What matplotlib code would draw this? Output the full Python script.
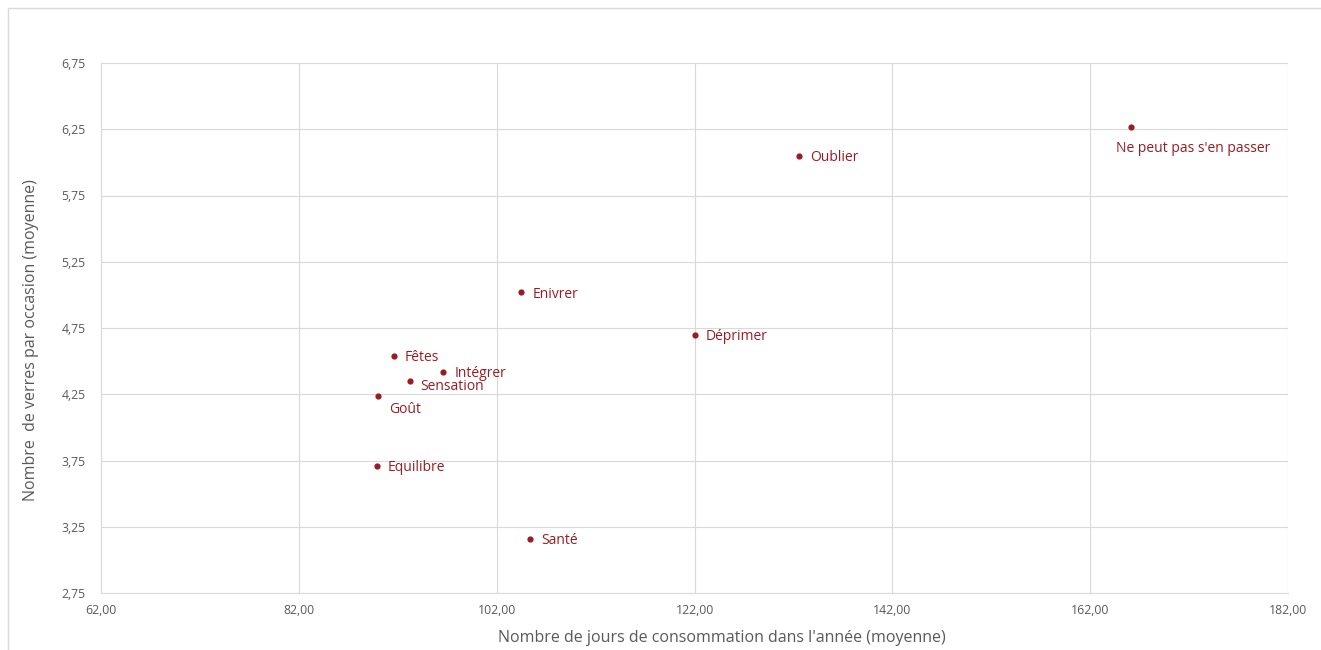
import matplotlib.pyplot as plt
from matplotlib.lines import Line2D
from matplotlib.ticker import FuncFormatter

# mean days of consumption per year vs mean glasses per occasion, by motive
motives = ["Ne peut pas s'en passer", "Oublier", "Enivrer", "Déprimer", "Fêtes",
           "Intégrer", "Sensation", "Goût", "Equilibre", "Santé"]
days = [166.1, 132.6, 104.5, 122.0, 91.6, 96.6, 93.2, 90.0, 89.9, 105.4]
glasses = [6.27, 6.05, 5.02, 4.70, 4.54, 4.42, 4.35, 4.24, 3.71, 3.16]

# label offsets in pixels (dx, dy, ha, va)
label_pos = {
    "Ne peut pas s'en passer": (-15, -14, "left", "top"),
    "Goût": (11, -6, "left", "top"),
    "Sensation": (11, -6, "left", "center"),
}

RED = "#9b1b22"
GREY = "#595959"

plt.rcParams["font.family"] = ["Open Sans", "DejaVu Sans"]

fig = plt.figure(figsize=(13.21, 6.5), dpi=100)
ax = fig.add_axes([101 / 1321, 57 / 650, 1187 / 1321, 530 / 650])

ax.scatter(days, glasses, s=12, color=RED, zorder=3)
for name, x, y in zip(motives, days, glasses):
    dx, dy, ha, va = label_pos.get(name, (11, -2, "left", "center"))
    ax.annotate(name, (x, y), xytext=(dx, dy), textcoords="offset pixels",
                ha=ha, va=va, color=RED, fontsize=10)

ax.set_xlim(62, 182)
ax.set_ylim(2.75, 6.75)
ax.set_xticks([62, 82, 102, 122, 142, 162, 182])
ax.set_yticks([2.75, 3.25, 3.75, 4.25, 4.75, 5.25, 5.75, 6.25, 6.75])
ax.xaxis.set_major_formatter(FuncFormatter(lambda v, p: f"{v:.2f}".replace(".", ",")))
ax.yaxis.set_major_formatter(FuncFormatter(lambda v, p: f"{v:.2f}".replace(".", ",")))
ax.tick_params(length=0, labelsize=8.8, colors=GREY, pad=8)
ax.tick_params(axis="y", pad=11)

ax.grid(True, color="#d9d9d9", linewidth=0.8)
ax.set_axisbelow(True)
for side in ["top", "right"]:
    ax.spines[side].set_visible(False)
for side in ["left", "bottom"]:
    ax.spines[side].set_color("#d9d9d9")

ax.set_xlabel("Nombre de jours de consommation dans l'année (moyenne)",
              fontsize=11.5, color=GREY)
ax.set_ylabel("Nombre  de verres par occasion (moyenne)",
              fontsize=11.5, color=GREY)
ax.xaxis.set_label_coords(0.523, -0.07)
ax.yaxis.set_label_coords(-0.052, 0.477)

# chart frame
fig.add_artist(Line2D([8 / 1321, 8 / 1321, 1], [0, 642 / 650, 642 / 650],
                      transform=fig.transFigure, color="#d9d9d9", linewidth=1))

fig.savefig("out.png", dpi=100)
